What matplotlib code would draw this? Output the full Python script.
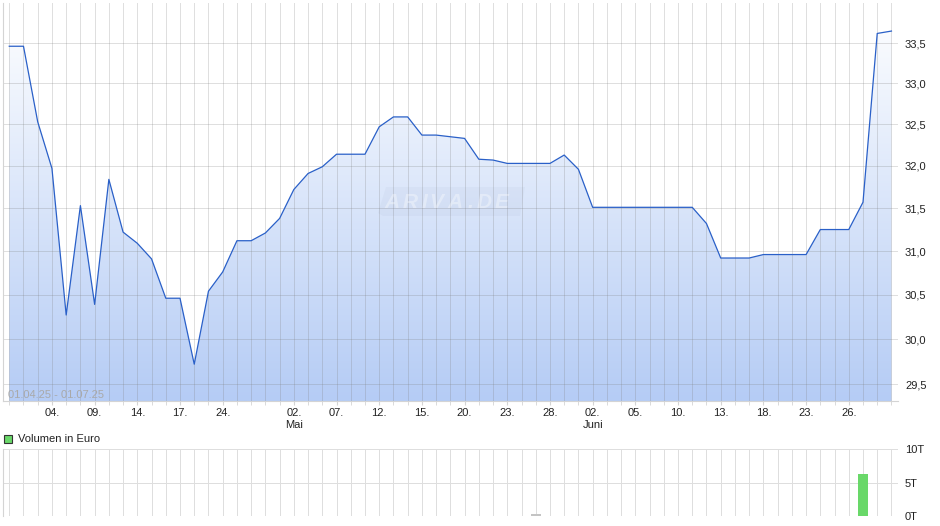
"""ARIVA-style price chart with volume panel, 01.04.25 - 01.07.25."""

import numpy as np
import pandas as pd
import matplotlib
matplotlib.use("Agg")
import matplotlib.pyplot as plt
from matplotlib.patches import Polygon
from matplotlib.ticker import FixedLocator, NullFormatter

plt.rcParams['font.family'] = ['Liberation Sans', 'DejaVu Sans']

# trading days (Easter holidays and 1st of May closed)
HOLIDAYS = ["2025-04-18", "2025-04-21", "2025-05-01"]
days = pd.bdate_range("2025-04-01", "2025-07-01")
days = days[~days.isin(pd.to_datetime(HOLIDAYS))]

prices = [
    33.46, 33.46, 32.53, 31.97, 30.27, 31.53, 30.39, 31.84, 31.22, 31.09,
    30.91, 30.46, 30.46, 29.72, 30.54, 30.76, 31.12, 31.12, 31.21, 31.38,
    31.72, 31.91, 31.99, 32.14, 32.14, 32.14, 32.47, 32.59, 32.59, 32.37,
    32.37, 32.35, 32.33, 32.08, 32.07, 32.03, 32.03, 32.03, 32.03, 32.13,
    31.96, 31.51, 31.51, 31.51, 31.51, 31.51, 31.51, 31.51, 31.51, 31.32,
    30.92, 30.92, 30.92, 30.96, 30.96, 30.96, 30.96, 31.25, 31.25, 31.25,
    31.57, 33.62, 33.65,
]

# volume in thousand euro (T)
vol_dates = ["2025-05-27", "2025-06-27"]
vol_values = [0.3, 6.3]
vol_colors = ["#c4c4c4", "#69d869"]

tick_dates = ["2025-04-04", "2025-04-09", "2025-04-14", "2025-04-17", "2025-04-24",
              "2025-05-02", "2025-05-07", "2025-05-12", "2025-05-15", "2025-05-20",
              "2025-05-23", "2025-05-28", "2025-06-02", "2025-06-05", "2025-06-10",
              "2025-06-13", "2025-06-18", "2025-06-23", "2025-06-26"]
month_names = {5: "Mai", 6: "Juni"}

price_ticks = [29.5, 30.0, 30.5, 31.0, 31.5, 32.0, 32.5, 33.0, 33.5]
vol_ticks = [0, 5, 10]

GRID = (0.5, 0.5, 0.5, 0.25)
W, H = 940, 526

x = np.arange(len(days))
pos = {d: i for i, d in enumerate(days)}

fig = plt.figure(figsize=(W / 100, H / 100), dpi=100)


def px_axes(left, top, right, bottom):
    return fig.add_axes([left / W, 1 - bottom / H, (right - left) / W, (bottom - top) / H])


ax = px_axes(3, 3.3, 898, 401)
vx = px_axes(3, 449.3, 898, 516.3)

XMIN, XMAX = -0.44, 62.46

# ---- price panel
ax.set_yscale('log')
ax.set_xlim(XMIN, XMAX)
ax.set_ylim(29.315, 34.0)

poly = ax.fill_between(x, prices, 20, color='none', lw=0)
grad = np.linspace(0, 1, 256).reshape(-1, 1)
top_c = np.array([1.0, 1.0, 1.0])
bot_c = np.array([181, 204, 245]) / 255
img = bot_c + (top_c - bot_c) * grad
img = img.reshape(256, 1, 3)
im = ax.imshow(img, extent=[0, 1, 0, 1], transform=ax.transAxes, origin='lower',
               aspect='auto', zorder=1, interpolation='bilinear')
im.set_clip_path(poly.get_paths()[0], transform=ax.transData)

ax.plot(x, prices, color='#2a60c8', lw=0.9, zorder=4)

for i in x:
    ax.axvline(i, color=GRID, lw=0.72, zorder=2)
for t in price_ticks:
    ax.axhline(t, color=GRID, lw=0.72, zorder=2)

ax.yaxis.tick_right()
ax.yaxis.set_major_locator(FixedLocator(price_ticks))
ax.yaxis.set_minor_formatter(NullFormatter())
ax.yaxis.set_minor_locator(FixedLocator([]))
ax.set_yticklabels([f"{t:.1f}".replace('.', ',') for t in price_ticks])
ax.tick_params(axis='y', length=0, pad=5, labelsize=8, labelcolor='#222222')

tick_idx = [pos[pd.Timestamp(d)] for d in tick_dates]
labels = []
for d in tick_dates:
    ts = pd.Timestamp(d)
    lab = ts.strftime("%d.")
    if ts.day <= 2 and ts.month in month_names:
        lab += "\n" + month_names[ts.month]
    labels.append(lab)
ax.set_xticks(tick_idx)
ax.set_xticklabels(labels, linespacing=1.25)
ax.set_xticks(x, minor=True)
ax.tick_params(axis='x', which='major', length=3, color='#d4d4d4', pad=2,
               labelsize=8, labelcolor='#222222')
ax.tick_params(axis='x', which='minor', length=3, color='#d4d4d4')

for side in ['top', 'right']:
    ax.spines[side].set_visible(False)
for side in ['left', 'bottom']:
    ax.spines[side].set_color('#d4d4d4')

ax.text(0.0056, 0.016, "01.04.25 - 01.07.25", transform=ax.transAxes,
        fontsize=8, color='#a9a9a9', va='center', ha='left', zorder=5)

# watermark: slanted box with spaced letters
wm_box = [(383, 216), (378, 213), (386, 187), (525, 187), (520, 216)]
fig.patches.append(Polygon([(px / W, 1 - py / H) for px, py in wm_box], closed=True,
                           transform=fig.transFigure, fc=(0.35, 0.42, 0.55, 0.045),
                           ec='none', zorder=3))
wm_text = "ARIVA.DE"
wm_x = [392, 410, 424, 436, 455, 470, 484, 502]
for ch, cx in zip(wm_text, wm_x):
    fig.text(cx / W, 1 - 202 / H, ch, fontsize=15, fontweight='bold', style='italic',
             color=(1, 1, 1, 0.35), ha='center', va='center', zorder=4)

# ---- volume panel
vx.set_xlim(XMIN, XMAX)
vx.set_ylim(0, 10)
for i in x:
    vx.axvline(i, color='#dedede', lw=0.72, zorder=1)
for t in vol_ticks:
    vx.axhline(t, color='#dedede', lw=0.72, zorder=1)
vx.bar([pos[pd.Timestamp(d)] for d in vol_dates], vol_values, width=0.7,
       color=vol_colors, zorder=3)
vx.yaxis.tick_right()
vx.set_yticks(vol_ticks)
vx.set_yticklabels([f"{t}T" for t in vol_ticks])
vx.tick_params(axis='y', length=0, pad=5, labelsize=8, labelcolor='#222222')
vx.set_xticks([])
for side in ['top', 'right', 'bottom']:
    vx.spines[side].set_visible(False)
vx.spines['left'].set_color('#d4d4d4')

fig.patches.append(plt.Rectangle((3.5 / W, 1 - 443 / H), 8 / W, 8 / H,
                                 transform=fig.transFigure, fc='#69d869',
                                 ec='#333333', lw=0.8))
fig.text(18 / W, 1 - 439.5 / H, "Volumen in Euro", fontsize=8, color='#222222',
         va='center', ha='left')

fig.savefig("out.png", dpi=100)
